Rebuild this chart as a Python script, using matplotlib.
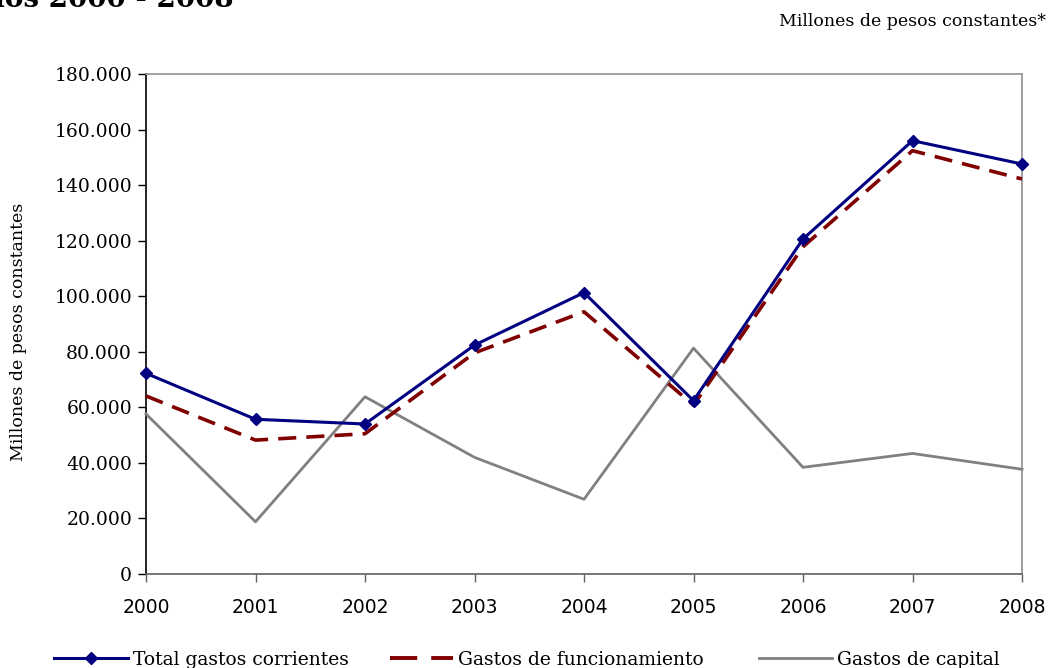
import matplotlib
matplotlib.use("Agg")
import matplotlib.pyplot as plt
from matplotlib.lines import Line2D
from matplotlib.ticker import FuncFormatter

years = ["2000", "2001", "2002", "2003", "2004", "2005", "2006", "2007", "2008"]
total_corrientes = [72250, 55700, 54000, 82400, 101300, 62400, 120600, 156000, 147600]
funcionamiento = [64100, 48200, 50500, 79600, 94400, 60800, 117800, 152400, 142200]
capital = [57600, 18800, 63800, 42000, 26900, 81300, 38400, 43400, 37700]
yticks = [0, 20000, 40000, 60000, 80000, 100000, 120000, 140000, 160000, 180000]

fig = plt.figure(figsize=(10.48, 6.68), dpi=100)
ax = fig.add_axes([146/1048, 1-574/668, (1022-146)/1048, (574-74)/668])

x = list(range(len(years)))
l1, = ax.plot(x, total_corrientes, color="#000080", lw=2.2, marker="D", markersize=6,
              clip_on=False, zorder=5, label="Total gastos corrientes")
l2, = ax.plot(x, funcionamiento, color="#800000", lw=2.6, dashes=(5, 2.8),
              clip_on=False, zorder=4, label="Gastos de funcionamiento")
l3, = ax.plot(x, capital, color="#808080", lw=2.0, clip_on=False, zorder=3,
              label="Gastos de capital")

ax.set_xlim(0, len(years) - 1)
ax.set_ylim(0, 180000)
ax.set_xticks(x)
ax.set_xticklabels(years, fontfamily="DejaVu Sans", fontsize=13.5)
ax.set_yticks(yticks)
ax.yaxis.set_major_formatter(FuncFormatter(lambda v, p: f"{int(v):,}".replace(",", ".")))
for t in ax.get_yticklabels():
    t.set_fontfamily("DejaVu Serif")
    t.set_fontsize(13.5)
ax.tick_params(axis="y", direction="out", length=6, width=1, color="black", pad=4)
ax.tick_params(axis="x", direction="out", length=6, width=1, color="#606060", pad=11)

ax.spines["left"].set_color("black")
ax.spines["left"].set_linewidth(1.2)
ax.spines["bottom"].set_color("#606060")
ax.spines["bottom"].set_linewidth(1.2)
ax.spines["top"].set_color("#909090")
ax.spines["right"].set_color("#909090")
ax.spines["top"].set_linewidth(1.2)
ax.spines["right"].set_linewidth(1.2)

fig.text(19/1048, 1-332/668, "Millones de pesos constantes", rotation=90,
         ha="center", va="center", fontfamily="DejaVu Serif", fontsize=12.5)

fig.text(1046/1048, 1-26/668, "Millones de pesos constantes*", ha="right", va="baseline",
         fontfamily="DejaVu Serif", fontsize=12.5)
fig.text(-0.035, 1-7/668, "Años 2000 - 2008", ha="left", va="baseline",
         fontfamily="DejaVu Serif", fontsize=20, fontweight="bold")

leg_l2 = Line2D([], [], color="#800000", lw=2.8, dashes=(7, 3.6),
                label="Gastos de funcionamiento")
fs = 13.5
px = fs * 100 / 72.0
for handle, x0, hlen in [(l1, 54, 74), (leg_l2, 390, 63), (l3, 759, 73)]:
    lg = fig.legend(handles=[handle], loc="center left",
                    bbox_to_anchor=(x0/1048, 1-660/668), frameon=False,
                    borderpad=0, borderaxespad=0, handlelength=hlen/px,
                    handletextpad=5/px, prop={"family": "DejaVu Serif", "size": fs})

fig.savefig("out.png", dpi=100)
